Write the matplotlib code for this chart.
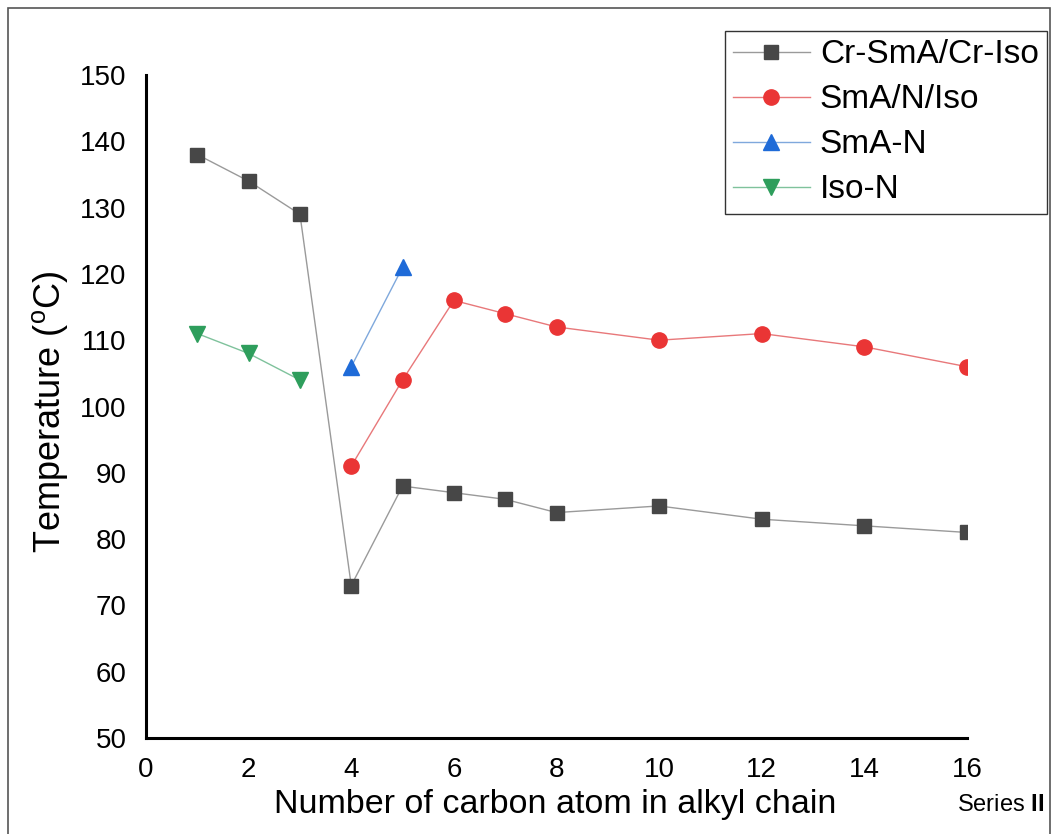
import matplotlib
matplotlib.use("Agg")
import matplotlib.pyplot as plt
from matplotlib.patches import Rectangle

plt.rcParams['font.family'] = ['Liberation Sans', 'DejaVu Sans']
plt.rcParams['mathtext.fontset'] = 'custom'
plt.rcParams['mathtext.rm'] = 'Liberation Sans'
plt.rcParams['mathtext.bf'] = 'Liberation Sans:bold'

# Data
cr_x = [1, 2, 3, 4, 5, 6, 7, 8, 10, 12, 14, 16]
cr_y = [138, 134, 129, 73, 88, 87, 86, 84, 85, 83, 82, 81]
sman_x = [4, 5, 6, 7, 8, 10, 12, 14, 16]
sman_y = [91, 104, 116, 114, 112, 110, 111, 109, 106]
sma_n_x = [4, 5]
sma_n_y = [106, 121]
iso_n_x = [1, 2, 3]
iso_n_y = [111, 108, 104]
xticks = [0, 2, 4, 6, 8, 10, 12, 14, 16]
yticks = [50, 60, 70, 80, 90, 100, 110, 120, 130, 140, 150]

fig = plt.figure(figsize=(10.56, 8.34), dpi=100)
ax = fig.add_axes([146/1056, 1-738/834, (967-146)/1056, (738-75)/834])

ax.plot(cr_x, cr_y, color='#9a9a9a', lw=1.0, marker='s', ms=10,
        mfc='#474747', mec='#474747', label='Cr-SmA/Cr-Iso')
ax.plot(sman_x, sman_y, color='#e8787a', lw=1.0, marker='o', ms=11,
        mfc='#ea3535', mec='#ea3535', label='SmA/N/Iso')
ax.plot(sma_n_x, sma_n_y, color='#7fa8dc', lw=1.0, marker='^', ms=12,
        mfc='#1f6bd8', mec='#1f6bd8', label='SmA-N')
ax.plot(iso_n_x, iso_n_y, color='#7fc29c', lw=1.0, marker='v', ms=12,
        mfc='#2e9e5c', mec='#2e9e5c', label='Iso-N')

ax.set_xlim(0, 16)
ax.set_ylim(50, 150)
ax.set_xticks(xticks)
ax.set_yticks(yticks)
ax.tick_params(axis='both', length=0, labelsize=20)
ax.tick_params(axis='y', pad=14)
ax.tick_params(axis='x', pad=14)
for s in ['top', 'right']:
    ax.spines[s].set_visible(False)
for s in ['left', 'bottom']:
    ax.spines[s].set_linewidth(2.2)
    ax.spines[s].set_color('black')

fig.text(555/1056, 1-805/834, 'Number of carbon atom in alkyl chain',
         fontsize=24.5, ha='center', va='center')
fig.text(50/1056, 1-412/834, r'Temperature ($\mathregular{^{o}}$C)',
         fontsize=26, ha='center', va='center', rotation=90)
fig.text(1044/1056, 1-805/834, r'Series $\mathbf{II}$',
         fontsize=17, ha='right', va='center')

leg = ax.legend(loc='upper right', bbox_to_anchor=(1047/1056, 1-31/834),
                bbox_transform=fig.transFigure, fontsize=24, frameon=True,
                fancybox=False, edgecolor='black', borderpad=0.25,
                labelspacing=0.42, handlelength=2.3, handletextpad=0.3,
                borderaxespad=0)
leg.get_frame().set_linewidth(1.0)

# Outer border
fig.patches.append(Rectangle((8/1056, -0.05), (1050-8)/1056, 1-8/834+0.05,
                             transform=fig.transFigure, fill=False,
                             edgecolor='#555555', lw=1.2))

fig.savefig('out.png', dpi=100)
